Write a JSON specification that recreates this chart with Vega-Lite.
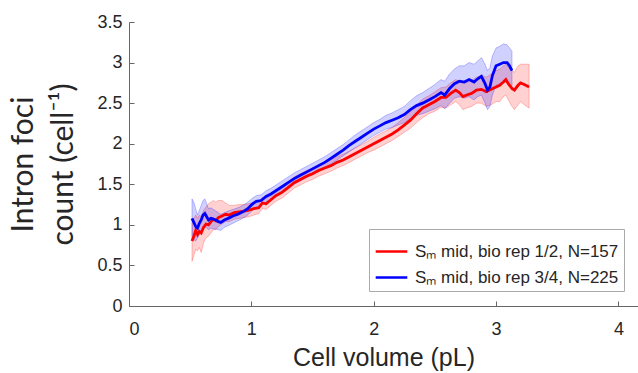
{
  "$schema": "https://vega.github.io/schema/vega-lite/v6.json",
  "width": 509,
  "height": 284,
  "autosize": {"type": "none"},
  "padding": {"left": 129, "top": 22, "right": 0, "bottom": 67},
  "background": "white",
  "config": {
    "view": {"stroke": null},
    "axis": {
      "grid": false,
      "domainColor": "#666666",
      "tickColor": "#666666",
      "labelColor": "#262626",
      "titleColor": "#262626",
      "labelFont": "Liberation Sans",
      "labelFontSize": 18,
      "titleFontWeight": "normal",
      "format": "~g"
    }
  },
  "datasets": {
    "red": [
      {"x": 0.515, "y": 0.80, "lo": 0.55, "hi": 1.02},
      {"x": 0.53, "y": 0.86, "lo": 0.62, "hi": 1.08},
      {"x": 0.545, "y": 0.93, "lo": 0.70, "hi": 1.12},
      {"x": 0.56, "y": 0.88, "lo": 0.68, "hi": 1.08},
      {"x": 0.575, "y": 0.92, "lo": 0.72, "hi": 1.12},
      {"x": 0.59, "y": 0.90, "lo": 0.66, "hi": 1.10},
      {"x": 0.61, "y": 0.97, "lo": 0.78, "hi": 1.18},
      {"x": 0.63, "y": 1.01, "lo": 0.84, "hi": 1.22},
      {"x": 0.65, "y": 1.00, "lo": 0.86, "hi": 1.26},
      {"x": 0.67, "y": 1.04, "lo": 0.90, "hi": 1.28},
      {"x": 0.69, "y": 1.07, "lo": 0.94, "hi": 1.30},
      {"x": 0.71, "y": 1.05, "lo": 0.94, "hi": 1.28},
      {"x": 0.73, "y": 1.09, "lo": 0.98, "hi": 1.30},
      {"x": 0.76, "y": 1.11, "lo": 1.01, "hi": 1.30},
      {"x": 0.79, "y": 1.13, "lo": 1.04, "hi": 1.27},
      {"x": 0.82, "y": 1.12, "lo": 1.04, "hi": 1.24},
      {"x": 0.86, "y": 1.15, "lo": 1.07, "hi": 1.24},
      {"x": 0.90, "y": 1.16, "lo": 1.08, "hi": 1.25},
      {"x": 0.94, "y": 1.17, "lo": 1.09, "hi": 1.25},
      {"x": 0.98, "y": 1.18, "lo": 1.10, "hi": 1.26},
      {"x": 1.02, "y": 1.20, "lo": 1.12, "hi": 1.28},
      {"x": 1.06, "y": 1.21, "lo": 1.14, "hi": 1.29},
      {"x": 1.09, "y": 1.27, "lo": 1.20, "hi": 1.34},
      {"x": 1.12, "y": 1.26, "lo": 1.19, "hi": 1.33},
      {"x": 1.16, "y": 1.31, "lo": 1.24, "hi": 1.38},
      {"x": 1.20, "y": 1.36, "lo": 1.29, "hi": 1.43},
      {"x": 1.25, "y": 1.40, "lo": 1.33, "hi": 1.47},
      {"x": 1.30, "y": 1.46, "lo": 1.39, "hi": 1.53},
      {"x": 1.35, "y": 1.52, "lo": 1.45, "hi": 1.59},
      {"x": 1.40, "y": 1.56, "lo": 1.49, "hi": 1.63},
      {"x": 1.45, "y": 1.60, "lo": 1.53, "hi": 1.67},
      {"x": 1.50, "y": 1.63, "lo": 1.56, "hi": 1.70},
      {"x": 1.55, "y": 1.67, "lo": 1.60, "hi": 1.74},
      {"x": 1.60, "y": 1.70, "lo": 1.63, "hi": 1.77},
      {"x": 1.65, "y": 1.73, "lo": 1.66, "hi": 1.80},
      {"x": 1.70, "y": 1.77, "lo": 1.70, "hi": 1.84},
      {"x": 1.75, "y": 1.80, "lo": 1.73, "hi": 1.87},
      {"x": 1.80, "y": 1.84, "lo": 1.77, "hi": 1.91},
      {"x": 1.85, "y": 1.88, "lo": 1.81, "hi": 1.95},
      {"x": 1.90, "y": 1.92, "lo": 1.85, "hi": 1.99},
      {"x": 1.95, "y": 1.96, "lo": 1.89, "hi": 2.03},
      {"x": 2.00, "y": 2.00, "lo": 1.92, "hi": 2.08},
      {"x": 2.05, "y": 2.04, "lo": 1.96, "hi": 2.12},
      {"x": 2.10, "y": 2.08, "lo": 2.00, "hi": 2.16},
      {"x": 2.15, "y": 2.12, "lo": 2.04, "hi": 2.20},
      {"x": 2.20, "y": 2.17, "lo": 2.09, "hi": 2.26},
      {"x": 2.25, "y": 2.23, "lo": 2.14, "hi": 2.32},
      {"x": 2.30, "y": 2.29, "lo": 2.19, "hi": 2.39},
      {"x": 2.35, "y": 2.37, "lo": 2.26, "hi": 2.47},
      {"x": 2.40, "y": 2.44, "lo": 2.32, "hi": 2.55},
      {"x": 2.45, "y": 2.48, "lo": 2.37, "hi": 2.59},
      {"x": 2.50, "y": 2.52, "lo": 2.40, "hi": 2.64},
      {"x": 2.55, "y": 2.57, "lo": 2.45, "hi": 2.69},
      {"x": 2.59, "y": 2.57, "lo": 2.44, "hi": 2.70},
      {"x": 2.63, "y": 2.62, "lo": 2.48, "hi": 2.75},
      {"x": 2.67, "y": 2.66, "lo": 2.52, "hi": 2.79},
      {"x": 2.70, "y": 2.63, "lo": 2.48, "hi": 2.77},
      {"x": 2.73, "y": 2.58, "lo": 2.42, "hi": 2.74},
      {"x": 2.76, "y": 2.60, "lo": 2.44, "hi": 2.76},
      {"x": 2.80, "y": 2.62, "lo": 2.46, "hi": 2.78},
      {"x": 2.84, "y": 2.66, "lo": 2.50, "hi": 2.82},
      {"x": 2.88, "y": 2.67, "lo": 2.50, "hi": 2.84},
      {"x": 2.92, "y": 2.64, "lo": 2.46, "hi": 2.82},
      {"x": 2.96, "y": 2.67, "lo": 2.48, "hi": 2.86},
      {"x": 3.00, "y": 2.70, "lo": 2.52, "hi": 2.90},
      {"x": 3.03, "y": 2.72, "lo": 2.52, "hi": 2.92},
      {"x": 3.06, "y": 2.76, "lo": 2.58, "hi": 2.96},
      {"x": 3.08, "y": 2.79, "lo": 2.60, "hi": 2.98},
      {"x": 3.10, "y": 2.74, "lo": 2.54, "hi": 2.94},
      {"x": 3.13, "y": 2.68, "lo": 2.46, "hi": 2.90},
      {"x": 3.15, "y": 2.66, "lo": 2.42, "hi": 2.88},
      {"x": 3.18, "y": 2.72, "lo": 2.48, "hi": 2.96},
      {"x": 3.20, "y": 2.75, "lo": 2.52, "hi": 2.98},
      {"x": 3.23, "y": 2.73, "lo": 2.48, "hi": 2.98},
      {"x": 3.27, "y": 2.70, "lo": 2.44, "hi": 2.98}
    ],
    "blue": [
      {"x": 0.515, "y": 1.08, "lo": 0.85, "hi": 1.32},
      {"x": 0.53, "y": 1.03, "lo": 0.82, "hi": 1.28},
      {"x": 0.545, "y": 0.98, "lo": 0.80, "hi": 1.20},
      {"x": 0.56, "y": 0.96, "lo": 0.84, "hi": 1.12},
      {"x": 0.575, "y": 1.02, "lo": 0.88, "hi": 1.18},
      {"x": 0.59, "y": 1.06, "lo": 0.92, "hi": 1.24},
      {"x": 0.605, "y": 1.12, "lo": 0.96, "hi": 1.30},
      {"x": 0.62, "y": 1.14, "lo": 0.98, "hi": 1.32},
      {"x": 0.635, "y": 1.10, "lo": 0.96, "hi": 1.26},
      {"x": 0.65, "y": 1.06, "lo": 0.94, "hi": 1.20},
      {"x": 0.67, "y": 1.08, "lo": 0.96, "hi": 1.21},
      {"x": 0.69, "y": 1.07, "lo": 0.95, "hi": 1.19},
      {"x": 0.71, "y": 1.06, "lo": 0.95, "hi": 1.17},
      {"x": 0.73, "y": 1.04, "lo": 0.94, "hi": 1.15},
      {"x": 0.75, "y": 1.03, "lo": 0.93, "hi": 1.13},
      {"x": 0.78, "y": 1.06, "lo": 0.97, "hi": 1.15},
      {"x": 0.81, "y": 1.08, "lo": 0.99, "hi": 1.17},
      {"x": 0.85, "y": 1.11, "lo": 1.02, "hi": 1.19},
      {"x": 0.89, "y": 1.13, "lo": 1.05, "hi": 1.21},
      {"x": 0.93, "y": 1.16, "lo": 1.08, "hi": 1.24},
      {"x": 0.97, "y": 1.20, "lo": 1.12, "hi": 1.28},
      {"x": 1.01, "y": 1.26, "lo": 1.18, "hi": 1.33},
      {"x": 1.04, "y": 1.29, "lo": 1.22, "hi": 1.36},
      {"x": 1.08, "y": 1.30, "lo": 1.23, "hi": 1.37},
      {"x": 1.12, "y": 1.35, "lo": 1.28, "hi": 1.42},
      {"x": 1.16, "y": 1.38, "lo": 1.31, "hi": 1.45},
      {"x": 1.20, "y": 1.42, "lo": 1.35, "hi": 1.49},
      {"x": 1.25, "y": 1.47, "lo": 1.40, "hi": 1.54},
      {"x": 1.30, "y": 1.52, "lo": 1.45, "hi": 1.59},
      {"x": 1.35, "y": 1.57, "lo": 1.50, "hi": 1.64},
      {"x": 1.40, "y": 1.61, "lo": 1.54, "hi": 1.68},
      {"x": 1.45, "y": 1.65, "lo": 1.58, "hi": 1.72},
      {"x": 1.50, "y": 1.69, "lo": 1.62, "hi": 1.76},
      {"x": 1.55, "y": 1.73, "lo": 1.66, "hi": 1.80},
      {"x": 1.60, "y": 1.77, "lo": 1.70, "hi": 1.84},
      {"x": 1.65, "y": 1.82, "lo": 1.75, "hi": 1.89},
      {"x": 1.70, "y": 1.87, "lo": 1.80, "hi": 1.94},
      {"x": 1.75, "y": 1.92, "lo": 1.85, "hi": 1.99},
      {"x": 1.80, "y": 1.98, "lo": 1.90, "hi": 2.05},
      {"x": 1.85, "y": 2.03, "lo": 1.95, "hi": 2.11},
      {"x": 1.90, "y": 2.08, "lo": 2.00, "hi": 2.16},
      {"x": 1.95, "y": 2.13, "lo": 2.05, "hi": 2.21},
      {"x": 2.00, "y": 2.18, "lo": 2.10, "hi": 2.26},
      {"x": 2.05, "y": 2.22, "lo": 2.14, "hi": 2.30},
      {"x": 2.10, "y": 2.26, "lo": 2.18, "hi": 2.35},
      {"x": 2.15, "y": 2.29, "lo": 2.20, "hi": 2.38},
      {"x": 2.20, "y": 2.32, "lo": 2.23, "hi": 2.42},
      {"x": 2.25, "y": 2.36, "lo": 2.26, "hi": 2.46},
      {"x": 2.30, "y": 2.42, "lo": 2.31, "hi": 2.53},
      {"x": 2.35, "y": 2.47, "lo": 2.35, "hi": 2.59},
      {"x": 2.40, "y": 2.50, "lo": 2.37, "hi": 2.63},
      {"x": 2.45, "y": 2.54, "lo": 2.40, "hi": 2.68},
      {"x": 2.50, "y": 2.58, "lo": 2.43, "hi": 2.73},
      {"x": 2.55, "y": 2.63, "lo": 2.47, "hi": 2.79},
      {"x": 2.58, "y": 2.60, "lo": 2.43, "hi": 2.77},
      {"x": 2.62, "y": 2.68, "lo": 2.50, "hi": 2.86},
      {"x": 2.66, "y": 2.74, "lo": 2.56, "hi": 2.92},
      {"x": 2.70, "y": 2.77, "lo": 2.58, "hi": 2.96},
      {"x": 2.74, "y": 2.76, "lo": 2.56, "hi": 2.96},
      {"x": 2.78, "y": 2.79, "lo": 2.58, "hi": 3.00},
      {"x": 2.82, "y": 2.76, "lo": 2.54, "hi": 2.98},
      {"x": 2.85, "y": 2.80, "lo": 2.58, "hi": 3.02},
      {"x": 2.88, "y": 2.83, "lo": 2.60, "hi": 3.06},
      {"x": 2.91, "y": 2.74, "lo": 2.50, "hi": 2.98},
      {"x": 2.93, "y": 2.66, "lo": 2.42, "hi": 2.90},
      {"x": 2.95, "y": 2.70, "lo": 2.46, "hi": 2.94},
      {"x": 2.97, "y": 2.84, "lo": 2.60, "hi": 3.08},
      {"x": 3.00, "y": 2.96, "lo": 2.72, "hi": 3.18},
      {"x": 3.03, "y": 2.98, "lo": 2.74, "hi": 3.20},
      {"x": 3.06, "y": 3.00, "lo": 2.76, "hi": 3.23},
      {"x": 3.09, "y": 3.00, "lo": 2.76, "hi": 3.22},
      {"x": 3.11, "y": 2.96, "lo": 2.72, "hi": 3.18},
      {"x": 3.13, "y": 2.90, "lo": 2.66, "hi": 3.14}
    ]
  },
  "layer": [
    {
      "data": {"name": "red"},
      "mark": {"type": "area", "color": "#ff0000", "fillOpacity": 0.18, "stroke": "#ff0000", "strokeOpacity": 0.3, "strokeWidth": 0.8},
      "encoding": {
        "x": {"field": "x", "type": "quantitative", "scale": {"domain": [0, 4.16], "nice": false}, "axis": {"values": [0, 1, 2, 3, 4], "title": "Cell volume (pL)", "titleFont": "Liberation Sans", "titleFontSize": 25, "tickSize": -5, "labelPadding": 19, "titlePadding": 7}},
        "y": {"field": "lo", "type": "quantitative", "scale": {"domain": [0, 3.5], "nice": false}, "axis": {"values": [0, 0.5, 1, 1.5, 2, 2.5, 3, 3.5], "title": ["Intron foci", "count (cell⁻¹)"], "titleFont": "Lato", "titleFontSize": 30, "titleLineHeight": 40, "tickSize": -5, "labelPadding": 12, "titlePadding": 18}},
        "y2": {"field": "hi"}
      }
    },
    {
      "data": {"name": "blue"},
      "mark": {"type": "area", "color": "#0000ff", "fillOpacity": 0.18, "stroke": "#0000ff", "strokeOpacity": 0.3, "strokeWidth": 0.8},
      "encoding": {
        "x": {"field": "x", "type": "quantitative"},
        "y": {"field": "lo", "type": "quantitative"},
        "y2": {"field": "hi"}
      }
    },
    {
      "data": {"name": "red"},
      "transform": [{"calculate": "'Sₘ mid, bio rep 1/2, N=157'", "as": "series"}],
      "mark": {"type": "line", "strokeWidth": 2.8},
      "encoding": {
        "x": {"field": "x", "type": "quantitative"},
        "y": {"field": "y", "type": "quantitative"},
        "color": {"field": "series", "type": "nominal", "scale": {"domain": ["Sₘ mid, bio rep 1/2, N=157", "Sₘ mid, bio rep 3/4, N=225"], "range": ["#ff0000", "#0000ff"]},
          "legend": {"orient": "none", "legendX": 240, "legendY": 207, "title": null, "fillColor": "white", "strokeColor": "#aaaaaa", "padding": 5, "labelFont": "Liberation Sans", "labelFontSize": 17, "labelLimit": 400, "labelColor": "#262626", "symbolType": "stroke", "symbolStrokeWidth": 2.5, "symbolSize": 1000, "rowPadding": 0, "labelOffset": 6}}
      }
    },
    {
      "data": {"name": "blue"},
      "transform": [{"calculate": "'Sₘ mid, bio rep 3/4, N=225'", "as": "series"}],
      "mark": {"type": "line", "strokeWidth": 2.8},
      "encoding": {
        "x": {"field": "x", "type": "quantitative"},
        "y": {"field": "y", "type": "quantitative"},
        "color": {"field": "series", "type": "nominal"}
      }
    }
  ]
}
